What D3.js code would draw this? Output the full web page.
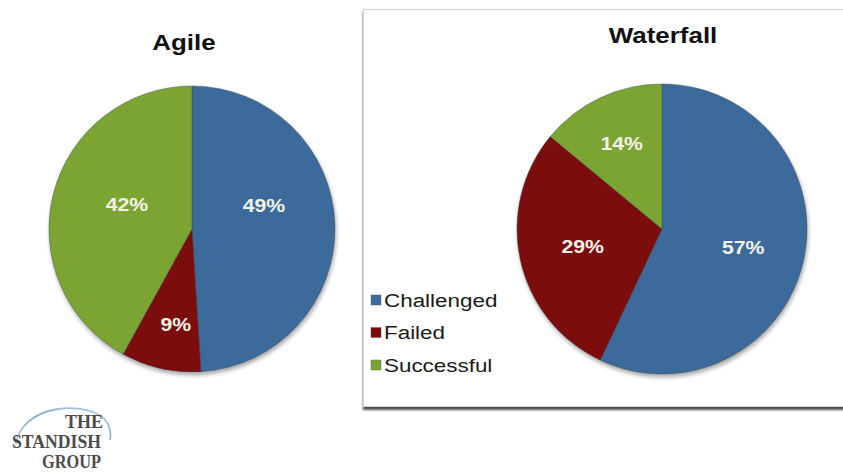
<!DOCTYPE html>
<html>
<head>
<meta charset="utf-8">
<script src="https://cdn.jsdelivr.net/npm/d3@7"></script>
<style>
  html, body { margin: 0; padding: 0; background: #ffffff; }
  svg { display: block; }
</style>
</head>
<body>
<svg id="chart" width="843" height="472"></svg>
<script>
// Project outcome shares by method
const categories = ["Challenged", "Failed", "Successful"];
const agileValues = [49, 9, 42];
const waterfallValues = [57, 29, 14];
const chartTitles = ["Agile", "Waterfall"];
const sliceColors = ["#3b6b9b", "#7c0a0b", "#7ba433"];

const svg = d3.select("#chart");
const SANS = "Liberation Sans, Arial, sans-serif";
const SERIF = "Liberation Serif, Times New Roman, serif";
const STRETCH = 1.18; // wide lettering used throughout

const defs = svg.append("defs");
const shadow = defs.append("filter").attr("id", "pieShadow")
  .attr("x", "-10%").attr("y", "-10%").attr("width", "120%").attr("height", "125%");
shadow.append("feGaussianBlur").attr("in", "SourceAlpha").attr("stdDeviation", 2.2);
shadow.append("feOffset").attr("dx", 1).attr("dy", 3).attr("result", "ob");
shadow.append("feComponentTransfer").append("feFuncA").attr("type", "linear").attr("slope", 0.35);
const merge = shadow.append("feMerge");
merge.append("feMergeNode");
merge.append("feMergeNode").attr("in", "SourceGraphic");

const boxShadow = defs.append("filter").attr("id", "boxShadow")
  .attr("x", "-5%").attr("y", "-5%").attr("width", "115%").attr("height", "115%");
boxShadow.append("feGaussianBlur").attr("in", "SourceAlpha").attr("stdDeviation", 1.2);
boxShadow.append("feOffset").attr("dx", 0).attr("dy", 2.5).attr("result", "ob");
boxShadow.append("feComponentTransfer").append("feFuncA").attr("type", "linear").attr("slope", 0.7);
const bm = boxShadow.append("feMerge");
bm.append("feMergeNode");
bm.append("feMergeNode").attr("in", "SourceGraphic");

const swoosh = defs.append("linearGradient").attr("id", "swoosh")
  .attr("x1", "0").attr("y1", "1").attr("x2", "1").attr("y2", "0");
swoosh.append("stop").attr("offset", "0%").attr("stop-color", "#c9d9ea");
swoosh.append("stop").attr("offset", "45%").attr("stop-color", "#6f98c4");
swoosh.append("stop").attr("offset", "100%").attr("stop-color", "#a9c2dc");

// Waterfall panel frame
svg.append("rect")
  .attr("x", 363.5).attr("y", 9.5).attr("width", 520).attr("height", 397)
  .attr("fill", "#ffffff").attr("stroke", "#d2d2d2").attr("stroke-width", 1)
  .attr("filter", "url(#boxShadow)");

const color = d3.scaleOrdinal().domain(categories).range(sliceColors);
const pie = d3.pie().sort(null).value(d => d.value);

function wideText(sel, x, y) {
  return sel.attr("transform", `translate(${x},${y}) scale(${STRETCH},1)`);
}

// labelLayout: per-slice radial fraction and angular nudge (degrees) for the % labels
function drawPie(cx, cy, r, values, title, titleX, titleY, labelLayout) {
  const data = categories.map((c, i) => ({ name: c, value: values[i] }));
  const g = svg.append("g").attr("transform", `translate(${cx},${cy})`);
  const arc = d3.arc().innerRadius(0).outerRadius(r);
  const arcs = pie(data);

  g.append("g").attr("filter", "url(#pieShadow)")
    .selectAll("path").data(arcs).join("path")
    .attr("d", arc)
    .attr("fill", d => color(d.data.name))
    .attr("stroke", "#3c464c")
    .attr("stroke-opacity", 0.55)
    .attr("stroke-width", 0.8);

  g.selectAll("text.pct").data(arcs).join("text")
    .attr("class", "pct")
    .each(function (d, i) {
      const [k, nudge] = labelLayout[i];
      const a = (d.startAngle + d.endAngle) / 2 + nudge * Math.PI / 180;
      const px = Math.sin(a) * r * k, py = -Math.cos(a) * r * k;
      wideText(d3.select(this), px, py);
    })
    .attr("text-anchor", "middle")
    .attr("dy", "0.36em")
    .attr("font-family", SANS)
    .attr("font-size", 18)
    .attr("font-weight", "bold")
    .attr("fill", "#f3f3ea")
    .text(d => d.data.value + "%");

  wideText(svg.append("text"), titleX, titleY)
    .attr("text-anchor", "middle")
    .attr("font-family", SANS)
    .attr("font-size", 22)
    .attr("font-weight", "bold")
    .attr("fill", "#111111")
    .text(title);
}

drawPie(192, 229, 143, agileValues, chartTitles[0], 184, 50,
  [[0.53, -16.6], [0.68, -3], [0.485, 6]]);
drawPie(662, 229, 145, waterfallValues, chartTitles[1], 663, 43,
  [[0.574, 0], [0.56, 0], [0.654, 0]]);

// Legend
const legend = svg.append("g").attr("transform", "translate(371,300)");
const rows = legend.selectAll("g").data(categories).join("g")
  .attr("transform", (d, i) => `translate(0,${i * 32.5})`);
rows.append("rect")
  .attr("x", 0).attr("y", -5).attr("width", 10).attr("height", 10)
  .attr("fill", d => color(d)).attr("stroke", "#555").attr("stroke-width", 0.4);
rows.append("text")
  .each(function () { wideText(d3.select(this), 13, 0); })
  .attr("dy", "0.36em")
  .attr("font-family", SANS)
  .attr("font-size", 19)
  .attr("fill", "#1a1a1a")
  .text(d => d);

// Standish Group logo
const logo = svg.append("g");
logo.append("path")
  .attr("d", "M15,448 C16,428 34,412 58,409 C82,406 102,412 108,424 C111,431 111,436 110,440")
  .attr("fill", "none").attr("stroke", "url(#swoosh)").attr("stroke-width", 1.8)
  .attr("opacity", 0.85);
const logoLines = [
  { text: "THE", x: 65, y: 428, len: 38 },
  { text: "STANDISH", x: 12, y: 448, len: 89 },
  { text: "GROUP", x: 42, y: 468, len: 59 }
];
logo.selectAll("text").data(logoLines).join("text")
  .attr("x", d => d.x).attr("y", d => d.y)
  .attr("font-family", SERIF).attr("font-weight", "bold").attr("font-size", 18)
  .attr("fill", "#4b4b4b")
  .attr("textLength", d => d.len).attr("lengthAdjust", "spacingAndGlyphs")
  .text(d => d.text);
</script>
</body>
</html>
